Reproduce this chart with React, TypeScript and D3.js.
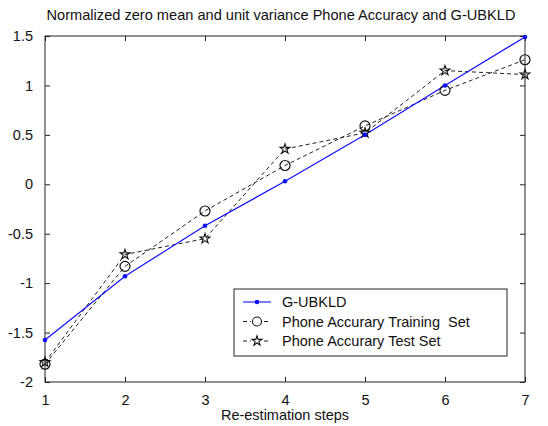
import React, { useEffect, useRef } from 'react';
import * as d3 from 'd3';

// values
const steps = [1, 2, 3, 4, 5, 6, 7];
const gubkld = [-1.575, -0.93, -0.42, 0.03, 0.5, 1.0, 1.49];
const trainAcc = [-1.82, -0.83, -0.27, 0.19, 0.59, 0.95, 1.26];
const testAcc = [-1.8, -0.71, -0.55, 0.357, 0.52, 1.15, 1.11];
const yTicks = [-2, -1.5, -1, -0.5, 0, 0.5, 1, 1.5];
const yTickLabels = ['-2', '-1.5', '-1', '-0.5', '0', '0.5', '1', '1.5'];
const legendLabels = ['G-UBKLD', 'Phone Accurary Training  Set', 'Phone Accurary Test Set'];

const W = 548;
const H = 426;
const m = { left: 45, right: 23, top: 36, bottom: 44 };
const FONT = '"Liberation Sans", Arial, sans-serif';

export default function App() {
  const ref = useRef<SVGSVGElement>(null);

  useEffect(() => {
    const svg = d3.select(ref.current);
    svg.selectAll('*').remove();

    const x = d3.scaleLinear().domain([1, 7]).range([m.left, W - m.right]);
    const y = d3.scaleLinear().domain([-2, 1.5]).range([H - m.bottom, m.top]);
    const x0 = x.range()[0], x1 = x.range()[1];
    const y0 = y.range()[0], y1 = y.range()[1];

    // Title
    svg.append('text')
      .attr('x', (x0 + x1) / 2 - 4)
      .attr('y', 20)
      .attr('text-anchor', 'middle')
      .attr('font-family', FONT)
      .attr('font-size', 14.6)
      .attr('fill', '#111')
      .text('Normalized zero mean and unit variance Phone Accuracy and G-UBKLD');

    // Axes box with inward ticks
    const styleAxis = (g: any) => {
      g.select('.domain').remove();
      g.selectAll('line').attr('stroke', '#222');
      g.selectAll('text').attr('font-family', FONT).attr('font-size', 14.5).attr('fill', '#111');
    };

    svg.append('g')
      .attr('transform', `translate(0,${y0})`)
      .call(d3.axisBottom(x).tickValues(steps).tickFormat(d3.format('d')).tickSizeInner(-5).tickSizeOuter(0).tickPadding(13))
      .call(styleAxis);
    svg.append('g')
      .attr('transform', `translate(0,${y1})`)
      .call(d3.axisTop(x).tickValues(steps).tickFormat(() => '').tickSizeInner(-5).tickSizeOuter(0))
      .call(styleAxis);
    svg.append('g')
      .attr('transform', `translate(${x0},0)`)
      .call(d3.axisLeft(y).tickValues(yTicks).tickFormat((d, i) => yTickLabels[i]).tickSizeInner(-5).tickSizeOuter(0).tickPadding(12))
      .call(styleAxis);
    svg.append('g')
      .attr('transform', `translate(${x1},0)`)
      .call(d3.axisRight(y).tickValues(yTicks).tickFormat(() => '').tickSizeInner(-5).tickSizeOuter(0))
      .call(styleAxis);

    svg.append('rect')
      .attr('x', x0).attr('y', y1)
      .attr('width', x1 - x0).attr('height', y0 - y1)
      .attr('fill', 'none').attr('stroke', '#222').attr('stroke-width', 1);

    // x label
    svg.append('text')
      .attr('x', (x0 + x1) / 2)
      .attr('y', 420)
      .attr('text-anchor', 'middle')
      .attr('font-family', FONT)
      .attr('font-size', 14.5)
      .attr('fill', '#111')
      .text('Re-estimation steps');

    const lineGen = d3.line<number>().x((d, i) => x(steps[i])).y(d => y(d));
    const star = d3.symbol().type(d3.symbolStar).size(30);

    // Training set
    svg.append('path').datum(trainAcc)
      .attr('d', lineGen).attr('fill', 'none')
      .attr('stroke', '#222').attr('stroke-width', 1).attr('stroke-dasharray', '4,3');
    // Test set
    svg.append('path').datum(testAcc)
      .attr('d', lineGen).attr('fill', 'none')
      .attr('stroke', '#222').attr('stroke-width', 1).attr('stroke-dasharray', '4,3');
    // G-UBKLD
    svg.append('path').datum(gubkld)
      .attr('d', lineGen).attr('fill', 'none')
      .attr('stroke', '#1010ff').attr('stroke-width', 1.2);

    svg.selectAll('circle.train').data(trainAcc).enter().append('circle')
      .attr('class', 'train')
      .attr('cx', (d, i) => x(steps[i])).attr('cy', d => y(d)).attr('r', 5)
      .attr('fill', 'none').attr('stroke', '#111').attr('stroke-width', 1.2);
    svg.selectAll('path.test').data(testAcc).enter().append('path')
      .attr('class', 'test')
      .attr('transform', (d, i) => `translate(${x(steps[i])},${y(d)})`)
      .attr('d', star)
      .attr('fill', 'none').attr('stroke', '#111').attr('stroke-width', 1.1);
    svg.selectAll('circle.g').data(gubkld).enter().append('circle')
      .attr('class', 'g')
      .attr('cx', (d, i) => x(steps[i])).attr('cy', d => y(d)).attr('r', 2.3)
      .attr('fill', '#1010ff');

    // Legend
    const lg = svg.append('g');
    lg.append('rect')
      .attr('x', 234).attr('y', 289).attr('width', 273).attr('height', 67)
      .attr('fill', '#fff').attr('stroke', '#222').attr('stroke-width', 1);
    legendLabels.forEach((lab, i) => {
      const cy = 302 + i * 19.5;
      const dashed = i > 0;
      lg.append('line')
        .attr('x1', 243).attr('x2', 271).attr('y1', cy).attr('y2', cy)
        .attr('stroke', dashed ? '#222' : '#1010ff').attr('stroke-width', 1.1)
        .attr('stroke-dasharray', dashed ? '4,3' : null);
      if (i === 0) {
        lg.append('circle').attr('cx', 257).attr('cy', cy).attr('r', 2.3).attr('fill', '#1010ff');
      } else if (i === 1) {
        lg.append('rect').attr('x', 251).attr('y', cy - 5).attr('width', 12).attr('height', 10).attr('fill', '#fff');
        lg.append('circle').attr('cx', 257).attr('cy', cy).attr('r', 4.5)
          .attr('fill', 'none').attr('stroke', '#111').attr('stroke-width', 1.1);
      } else {
        lg.append('rect').attr('x', 251).attr('y', cy - 5).attr('width', 12).attr('height', 10).attr('fill', '#fff');
        lg.append('path').attr('transform', `translate(257,${cy})`).attr('d', star)
          .attr('fill', 'none').attr('stroke', '#111').attr('stroke-width', 1.1);
      }
      lg.append('text')
        .attr('x', 282).attr('y', cy + 5)
        .attr('font-family', FONT).attr('font-size', 14.5).attr('fill', '#111')
        .attr('xml:space', 'preserve')
        .style('white-space', 'pre')
        .text(lab);
    });
  }, []);

  return (
    <div style={{ position: 'absolute', left: 0, top: 0 }}>
      <svg ref={ref} width={W} height={H} style={{ display: 'block', background: '#fff' }} />
    </div>
  );
}
